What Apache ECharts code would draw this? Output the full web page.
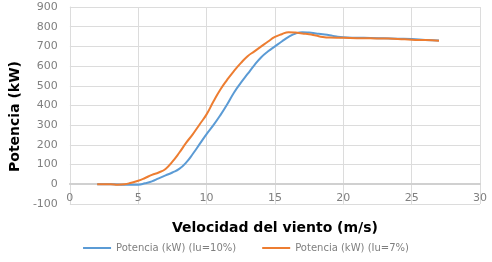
<!DOCTYPE html>
<html>
<head>
<meta charset="utf-8">
<script src="https://cdn.jsdelivr.net/npm/echarts@6/dist/echarts.min.js"></script>
<style>
  html, body { margin: 0; padding: 0; background: #fff; }
  #chart { width: 492px; height: 262px; }
</style>
</head>
<body>
<div id="chart"></div>
<script>
// wind speed (m/s) and power (kW) for the two turbulence intensities
const speedIu10 = [2, 3, 4, 5, 5.5, 6, 6.5, 7, 7.5, 8, 8.5, 9, 9.5, 10, 10.5, 11, 11.5, 12, 12.5, 13, 13.5, 14, 14.5, 15, 15.5, 16, 16.5, 17, 17.5, 18, 18.5, 19, 19.5, 20, 21, 22, 23, 24, 25, 26, 27];
const powerIu10 = [0, 0, -2, -2, 5, 15, 30, 45, 60, 78, 110, 155, 205, 255, 300, 350, 405, 465, 515, 560, 605, 645, 675, 700, 725, 748, 765, 772, 770, 766, 762, 757, 750, 746, 744, 743, 741, 739, 737, 733, 730];

const speedIu7 = [2, 3, 3.5, 4, 4.5, 5, 5.5, 6, 6.5, 7, 7.5, 8, 8.5, 9, 9.5, 10, 10.5, 11, 11.5, 12, 12.5, 13, 13.5, 14, 14.5, 15, 15.5, 16, 16.5, 17, 17.5, 18, 18.5, 19, 20, 21, 22, 23, 24, 25, 26, 27];
const powerIu7 = [0, 0, -2, 0, 8, 18, 32, 48, 60, 78, 115, 160, 210, 255, 305, 355, 420, 480, 530, 575, 615, 650, 675, 700, 725, 748, 762, 772, 770, 765, 762, 755, 748, 745, 744, 742, 741, 740, 738, 734, 732, 729];

const seriesNames = ['Potencia (kW) (Iu=10%)', 'Potencia (kW) (Iu=7%)'];

const pairs = (xs, ys) => xs.map((x, i) => [x, ys[i]]);

const chart = echarts.init(document.getElementById('chart'));

const option = {
  backgroundColor: '#fff',
  animation: false,
  grid: { left: 67, right: 12, top: 7, bottom: 58 },
  legend: {
    bottom: 4,
    left: 'center',
    icon: 'rect',
    itemWidth: 28,
    itemHeight: 2,
    itemGap: 26,
    textStyle: { color: '#7f7f7f', fontSize: 10, fontFamily: 'DejaVu Sans' },
    data: seriesNames
  },
  xAxis: {
    type: 'value',
    min: 0,
    max: 30,
    interval: 5,
    name: 'Velocidad del viento (m/s)',
    nameLocation: 'middle',
    nameGap: 37,
    nameTextStyle: { color: '#000', fontSize: 14, fontWeight: 'bold', fontFamily: 'DejaVu Sans' },
    // the axis sits on the zero line, 100 kW above the bottom of the grid
    axisLine: { onZero: false, lineStyle: { color: '#d0d0d0', width: 2 } },
    offset: -20,
    axisTick: { show: false },
    axisLabel: { color: '#7f7f7f', fontSize: 11, fontFamily: 'DejaVu Sans', margin: 9 },
    splitLine: { show: true, lineStyle: { color: '#dcdcdc' } }
  },
  yAxis: {
    type: 'value',
    min: -100,
    max: 900,
    interval: 100,
    name: 'Potencia (kW)',
    nameLocation: 'middle',
    nameGap: 45,
    nameTextStyle: {
      color: '#000', fontSize: 14, fontWeight: 'bold', fontFamily: 'DejaVu Sans',
      padding: [0, 22, 0, 0]
    },
    axisLine: { show: true, lineStyle: { color: '#dcdcdc' } },
    axisTick: { show: false },
    axisLabel: { color: '#7f7f7f', fontSize: 11, fontFamily: 'DejaVu Sans', margin: 12 },
    splitLine: { show: true, lineStyle: { color: '#dcdcdc' } }
  },
  series: [
    {
      name: seriesNames[0],
      type: 'line',
      smooth: true,
      symbol: 'none',
      data: pairs(speedIu10, powerIu10),
      lineStyle: { color: '#5b9bd5', width: 2 },
      itemStyle: { color: '#5b9bd5' }
    },
    {
      name: seriesNames[1],
      type: 'line',
      smooth: true,
      symbol: 'none',
      data: pairs(speedIu7, powerIu7),
      lineStyle: { color: '#ed7d31', width: 2 },
      itemStyle: { color: '#ed7d31' }
    }
  ]
};

chart.setOption(option);
window.addEventListener('resize', () => chart.resize());
</script>
</body>
</html>
